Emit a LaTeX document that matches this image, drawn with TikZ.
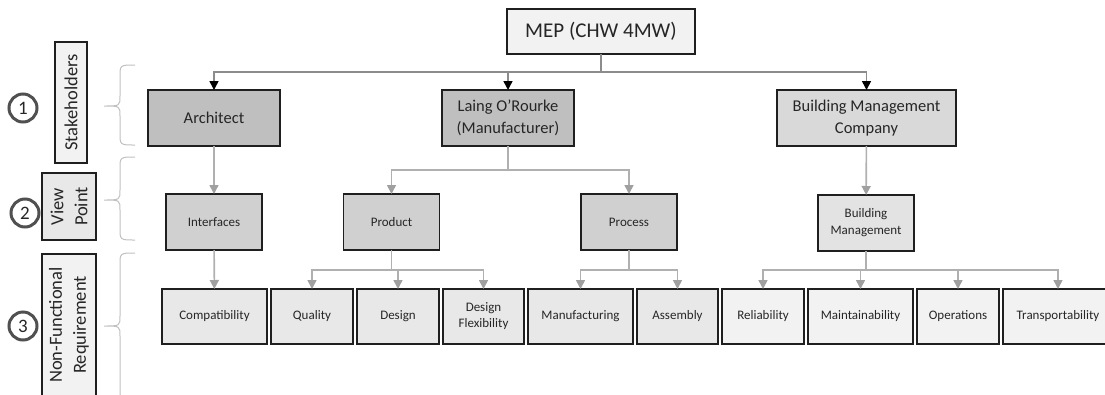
\documentclass[tikz,border=0pt]{standalone}
\usepackage{fontspec}
\setmainfont{Carlito}
\usepackage{tikz}
\usetikzlibrary{arrows.meta, positioning}

\definecolor{boxline}{HTML}{1F1F1F}
\definecolor{txtgray}{HTML}{262626}
\definecolor{paleFill}{HTML}{F2F2F2}
\definecolor{lightFill}{HTML}{E8E8E8}
\definecolor{midFill}{HTML}{D9D9D9}
\definecolor{viewFill}{HTML}{D0D0D0}
\definecolor{bmFill}{HTML}{E3E3E3}
\definecolor{darkFill}{HTML}{BFBFBF}
\definecolor{topline}{HTML}{8C8C8C}
\definecolor{lowline}{HTML}{B0B0B0}
\definecolor{lowtip}{HTML}{A0A0A0}
\definecolor{numgray}{HTML}{505050}
\definecolor{bracegray}{HTML}{C0C0C0}

% left hand brace, (top, tip, bottom) in pixels
\newcommand{\sidebrace}[3]{%
  \draw[bracestyle] (135,#1) .. controls (120,#1) .. (120,#1+12) -- (120,#2-10)
    .. controls (120,#2) .. (104,#2) .. controls (120,#2) .. (120,#2+10)
    -- (120,#3-12) .. controls (120,#3) .. (135,#3);}

\begin{document}
\begin{tikzpicture}[
    x=1pt, y=-1pt,
    box/.style={draw=boxline, line width=1.8pt, text=txtgray, align=center, inner sep=2pt, outer sep=0pt},
    rootbox/.style={box, fill=paleFill, minimum width=188pt, minimum height=45pt, font=\fontsize{21}{25}\selectfont},
    stakebox/.style={box, minimum height=56pt, font=\fontsize{16.5}{22}\selectfont},
    viewbox/.style={box, minimum width=96pt, minimum height=56pt, font=\fontsize{13}{17}\selectfont},
    reqbox/.style={box, minimum height=55pt, font=\fontsize{13}{16}\selectfont},
    sidebox/.style={box, rotate=90, font=\fontsize{18.5}{24}\selectfont},
    num/.style={circle, draw=numgray, line width=3pt, minimum size=28pt, inner sep=0pt, text=txtgray, font=\fontsize{19}{19}\selectfont},
    topflow/.style={draw=topline, line width=1.6pt, -{Triangle[length=9pt, width=9pt, color=black]}},
    lowflow/.style={draw=lowline, line width=1.6pt, -{Triangle[length=9pt, width=9pt, color=lowtip]}},
    bracestyle/.style={draw=bracegray, line width=1pt},
    node distance=4pt
]
\useasboundingbox (0,0) rectangle (1105,394);

% Side labels
\node[sidebox, fill=paleFill, minimum width=121pt, minimum height=32pt] (stakeLbl) at (71,102.5) {Stakeholders};
\node[sidebox, fill=lightFill, minimum width=67pt, minimum height=54pt] (viewLbl) at (69,206.5) {View\\Point};
\node[sidebox, fill=paleFill, minimum width=142pt, minimum height=54pt] (reqLbl) at (69,325) {Non-Functional\\Requirement};

\node[num] (one) at (23,108) {1};
\node[num] (two) at (25,213) {2};
\node[num] (three) at (23,326) {3};

\sidebrace{65}{106}{145}
\sidebrace{157}{200}{240}
\sidebrace{253}{326}{400}

% Root and stakeholders
\node[rootbox] (mep) at (601,31.5) {MEP (CHW 4MW)};
\node[stakebox, fill=darkFill, minimum width=132pt] (architect) at (214,118) {Architect};
\node[stakebox, fill=darkFill, minimum width=132pt] (laing) at (508,118) {Laing O’Rourke\\(Manufacturer)};
\node[stakebox, fill=midFill, minimum width=179pt] (bmc) at (866.5,118) {Building Management\\Company};

% View points
\node[viewbox, fill=viewFill] (interfaces) at (214,222) {Interfaces};
\node[viewbox, fill=viewFill] (product) at (391.5,222) {Product};
\node[viewbox, fill=viewFill] (process) at (629,222) {Process};
\node[viewbox, fill=bmFill] (bldgmgmt) at (866,223) {Building\\Management};

% Requirements
\node[reqbox, fill=lightFill, minimum width=105pt] (compat) at (214.5,316.5) {Compatibility};
\node[reqbox, fill=lightFill, minimum width=82pt, right=of compat] (quality) {Quality};
\node[reqbox, fill=lightFill, minimum width=82pt, right=of quality] (design) {Design};
\node[reqbox, fill=lightFill, minimum width=81pt, right=of design] (flex) {Design\\Flexibility};
\node[reqbox, fill=lightFill, minimum width=105pt, right=of flex] (manuf) {Manufacturing};
\node[reqbox, fill=lightFill, minimum width=81pt, right=of manuf] (assembly) {Assembly};
\node[reqbox, fill=paleFill, minimum width=82pt, right=of assembly] (reliab) {Reliability};
\node[reqbox, fill=paleFill, minimum width=105pt, right=of reliab] (maint) {Maintainability};
\node[reqbox, fill=paleFill, minimum width=82pt, right=of maint] (ops) {Operations};
\node[reqbox, fill=paleFill, minimum width=110pt, right=of ops] (transp) {Transportability};

% Root to stakeholders
\draw[topflow] (mep.south) -- ++(0,18) -| (architect.north);
\draw[topflow] (mep.south) -- ++(0,18) -| (laing.north);
\draw[topflow] (mep.south) -- ++(0,18) -| (bmc.north);

% Stakeholders to view points
\draw[lowflow] (architect) -- (interfaces);
\draw[lowflow] (laing.south) -- ++(0,24) -| (product.north);
\draw[lowflow] (laing.south) -- ++(0,24) -| (process.north);
\draw[lowflow] (bmc) -- (bldgmgmt);

% View points to requirements
\draw[lowflow] (interfaces) -- (compat);
\foreach \r in {quality, design, flex}
  \draw[lowflow] (product.south) -- ++(0,20) -| (\r.north);
\foreach \r in {manuf, assembly}
  \draw[lowflow] (process.south) -- ++(0,20) -| (\r.north);
\foreach \r in {reliab, maint, ops, transp}
  \draw[lowflow] (bldgmgmt.south) -- ++(0,19) -| (\r.north);

\end{tikzpicture}
\end{document}
